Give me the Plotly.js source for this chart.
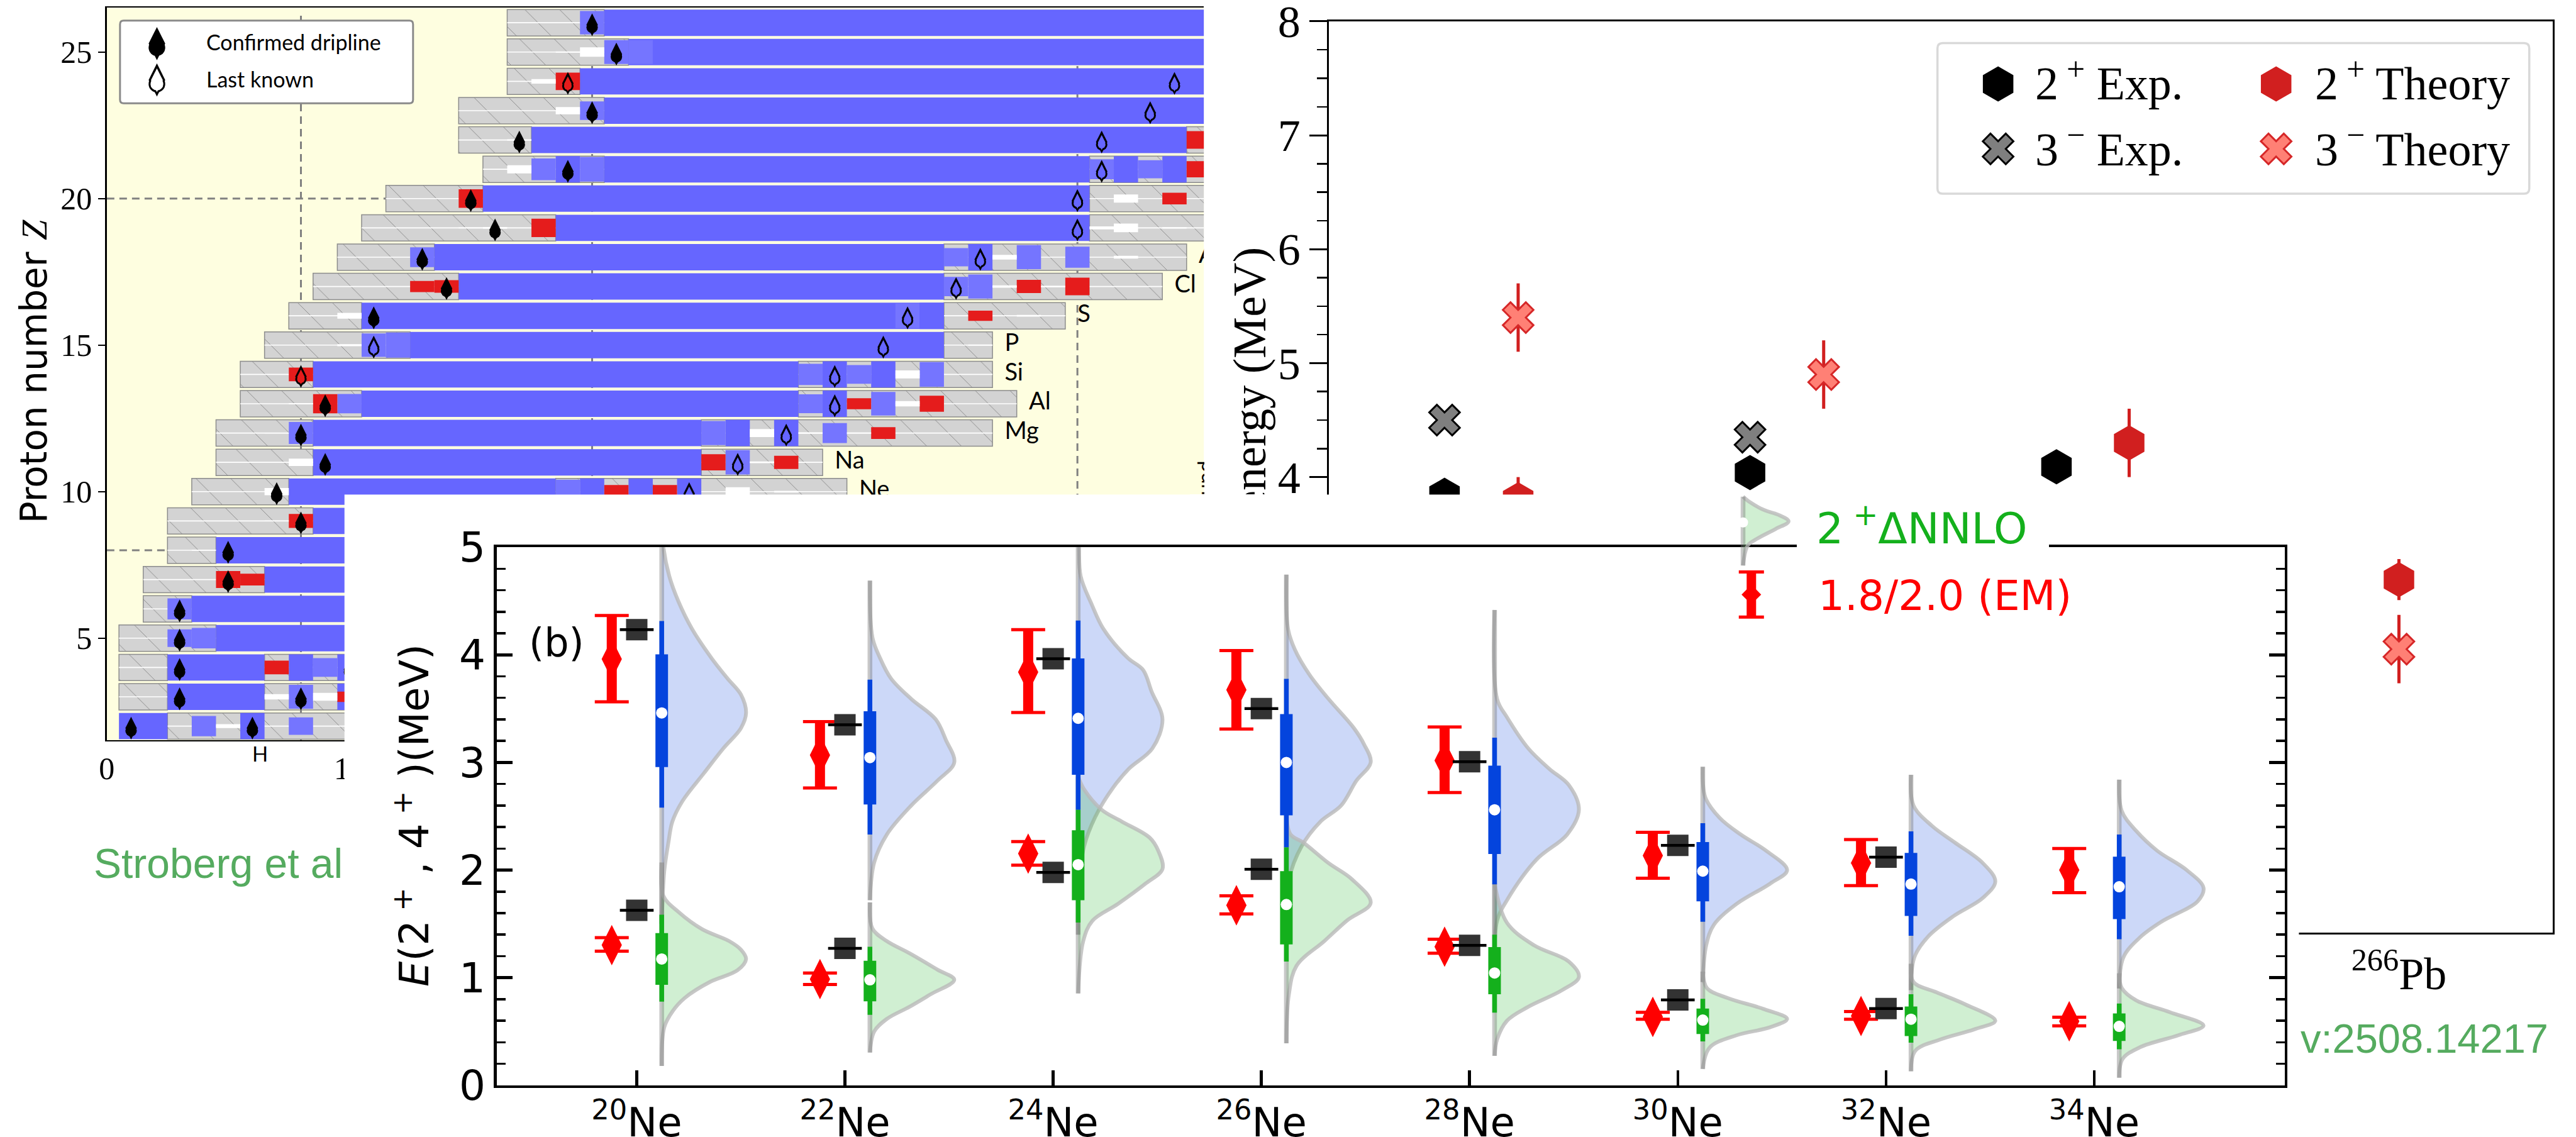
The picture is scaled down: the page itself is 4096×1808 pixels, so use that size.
<!DOCTYPE html>
<html><head><meta charset="utf-8">
<script src="https://cdn.plot.ly/plotly-3.0.1.min.js"></script>
<style>html,body{margin:0;padding:0;background:#fff}#c{width:4096px;height:1808px}</style>
</head><body><div id="c"></div>
<script>
// ---------- panel (a): nuclear chart cells, [Z, N_from, N_to]
const graySpans=[[26,16.5,20.5],[25,16.5,21.5],[24,16.5,19.5],[23,14.5,20.5],[22,14.5,17.5],[21,15.5,20.5],[20,11.5,15.5],[19,10.5,18.5],[18,9.5,13.5],[17,8.5,14.5],[16,7.5,10.5],[15,6.5,12.5],[14,5.5,8.5],[13,5.5,10.5],[12,4.5,8.5],[11,4.5,8.5],[10,3.5,7.5],[9,2.5,8.5],[8,2.5,4.5],[7,1.5,6.5],[6,1.5,3.5],[5,0.5,4.5],[4,0.5,2.5],[3,0.5,2.5],[2,2.5,14],[4,6.5,11],[3,6.5,14],[22,44.5,46],[21,40.5,46],[20,40.5,46],[19,40.5,46],[18,34.5,44.5],[17,34.5,43.5],[16,34.5,39.5],[15,34.5,36.5],[14,28.5,36.5],[13,28.5,37.5],[12,24.5,36.5],[11,24.5,29.5],[10,18.5,30.5]];
const blueSpans=[[26,20.5,46],[25,21.5,46],[24,19.5,46],[23,20.5,46],[22,17.5,44.5],[21,20.5,40.5],[20,15.5,40.5],[19,18.5,40.5],[18,13.5,34.5],[17,14.5,34.5],[16,10.5,34.5],[15,12.5,34.5],[14,8.5,28.5],[13,10.5,28.5],[12,8.5,24.5],[11,8.5,24.5],[10,7.5,18.5],[9,8.5,30],[8,4.5,30],[7,6.5,30],[6,3.5,30],[5,4.5,30],[4,2.5,6.5],[3,2.5,6.5],[2,0.5,2.5]];
// small cells: [Z, N, relative height]
const midBlueCells=[[26,20,.8],[25,21,.82],[25,22,.82],[23,20,.63],[21,18,.74],[21,20,.84],[18,13,.68],[15,11,.8],[15,12,.86],[13,10,.66],[12,8,.75],[10,19,.82],[6,3,.72],[5,3,.6],[5,4,.7],[4,9,.64],[3,8,.82],[2,4,.69],[2,8,.6],[21,41,.68],[21,43,.62],[18,35,.62],[18,38,.82],[18,40,.72],[17,35,.66],[17,36,.82],[16,33,.84],[14,29,.72],[14,31,.64],[14,34,.84],[13,29,.64],[13,32,.8],[12,25,.82],[12,30,.68],[11,26,.83]];
const fullBlueCells=[[21,19,.9],[21,42,.9],[21,44,.9],[18,36,.9],[16,34,.9],[14,30,.9],[14,32,.9],[13,30,.9],[12,26,.9],[12,28,.9],[10,20,.9],[10,22,.9],[10,24,.9],[4,8,.9],[4,10,.9],[3,10,.9],[2,6,.9]];
const redCells=[[24,19,.6],[20,15,.63],[19,18,.63],[17,13,.38],[17,14,.43],[14,8,.47],[13,9,.65],[10,21,.45],[10,23,.45],[9,8,.48],[7,5,.58],[7,6,.4],[4,7,.47],[3,10,.35],[22,45,.6],[21,45,.55],[20,44,.4],[17,38,.45],[17,40,.6],[16,36,.35],[13,31,.38],[13,34,.55],[12,32,.4],[11,25,.55],[11,28,.45]];
const whiteCells=[[25,19,.04],[25,20,.32],[24,18,.16],[23,19,.25],[22,17,.05],[21,17,.28],[19,15,.04],[19,16,.06],[16,10,.2],[15,10,.07],[13,8,.04],[12,7,.03],[11,8,.25],[10,7,.25],[9,7,.03],[8,4,.03],[3,7,.18],[3,9,.27],[2,5,.13],[20,42,.28],[19,41,.1],[19,42,.3],[19,44,.05],[18,37,.16],[18,42,.1],[17,37,.08],[17,39,.05],[16,38,.06],[15,36,.04],[14,33,.27],[13,33,.18],[12,27,.27],[12,29,.05],[12,31,.04],[11,27,.06],[10,26,.3],[10,28,.06]];
const confirmedDrip=[[26,20],[25,21],[23,20],[22,17],[21,19],[20,15],[19,16],[18,13],[17,14],[16,11],[13,9],[12,8],[11,9],[10,7],[9,8],[8,5],[7,5],[6,3],[5,3],[4,3],[3,3],[3,8],[2,1],[2,6],[4,10]];
const lastKnownDrip=[[24,19],[15,11],[14,8],[24,44],[23,43],[22,41],[21,41],[20,40],[19,40],[18,36],[17,35],[16,33],[15,32],[14,30],[13,30],[12,28],[11,26],[10,24]];
const lastKnownRedCell=['24,19','14,8'];
const elementNames=['Ne','Na','Mg','Al','Si','P','S','Cl','Ar'];
const elementZ=[10,11,12,13,14,15,16,17,18];
const elementN=[31,30,37,38,37,37,40,44,45];
const magicN=[8,20,40];
const magicZ=[[8,2.5],[20,11.5]];

// ---------- panel (c): Pb excited states
const cExp2X=[.378,1.378,2.381], cExp2=[3.84,4.04,4.09];
const cExp3X=[.378,1.378], cExp3=[4.50,4.35];
const cTh2X=[.619,2.619,3.502], cTh2=[3.80,4.30,3.10], cTh2Err=[.2,.3,.18];
const cTh3X=[.619,1.619,3.502], cTh3=[5.40,4.90,2.49], cTh3Err=[.3,.3,.3];

// ---------- panel (b): neon chain
const massNumbers=[20,22,24,26,28,30,32,34];
const red4=[3.96,3.068,3.84,3.674,3.018,2.134,2.066,2.0];
const red4Hi=[4.365,3.38,4.234,4.04,3.33,2.351,2.283,2.2];
const red4Lo=[3.563,2.763,3.464,3.31,2.72,1.925,1.856,1.79];
const red2=[1.303,.987,2.153,1.673,1.288,.636,.644,.595];
const red2Hi=[1.372,1.044,2.264,1.76,1.357,.678,.686,.633];
const red2Lo=[1.246,.9375,2.046,1.593,1.227,.614,.614,.553];
const exp4=[4.234,3.35,3.963,3.5,3.007,2.23,2.12];
const exp2=[1.627,1.273,1.978,2.008,1.30,.793,.713];
const med4=[3.46,3.045,3.41,3.0,2.56,1.99,1.87,1.845];
const boxHi4=[4.005,3.476,3.967,3.449,2.97,2.26,2.16,2.125];
const boxLo4=[2.957,2.61,2.885,2.508,2.15,1.71,1.574,1.545];
const whiskHi4=[4.314,3.77,4.318,3.777,3.23,2.435,2.36,2.33];
const whiskLo4=[2.58,2.33,2.56,2.21,1.867,1.52,1.39,1.357];
const med2=[1.174,.98,2.05,1.68,1.044,.606,.614,.548];
const boxHi2=[1.414,1.158,2.37,1.99,1.284,.713,.732,.668];
const boxLo2=[.934,.781,1.72,1.31,.846,.476,.457,.412];
const whiskHi2=[1.585,1.288,2.56,2.21,1.40,.804,.846,.76];
const whiskLo2=[.777,.655,1.513,1.15,.675,.408,.396,.335];
const violin4E=[
[5.3,5.0,4.73,4.5,4.24,3.97,3.78,3.63,3.46,3.32,3.13,2.9,2.64,2.45,2.26,1.99,1.5],
[4.69,4.16,3.97,3.78,3.59,3.4,3.21,3.0,2.83,2.6,2.33,2.07,1.72],
[5.3,5.0,4.73,4.47,4.24,3.97,3.86,3.66,3.4,3.13,2.94,2.75,2.49,2.22,1.875,1.4],
[4.745,4.24,4.05,3.82,3.59,3.32,3.17,3.0,2.83,2.6,2.447,2.22,1.91,1.38],
[4.417,3.59,3.42,3.13,2.94,2.79,2.56,2.33,2.1,1.72,1.53,1.11],
[2.96,2.675,2.485,2.33,2.18,2.0,1.875,1.685,1.49,1.3,.96],
[2.885,2.6,2.41,2.256,2.066,1.894,1.74,1.57,1.38,1.19,.884],
[2.84,2.55,2.365,2.18,2.0,1.835,1.71,1.52,1.377,1.19,.9]];
const violin4W=[
[0,.02,.09,.196,.36,.59,.78,.94,1,.94,.73,.5,.245,.126,.08,.03,0],
[0,.03,.12,.25,.49,.78,.9,1,.8,.49,.2,.05,0],
[0,.01,.03,.16,.3,.59,.77,.87,1,.88,.6,.4,.2,.07,.01,0],
[0,.02,.1,.27,.5,.8,.92,1,.83,.65,.4,.18,.03,0],
[0,.03,.147,.4,.65,.88,1,.86,.5,.147,.03,0],
[0,.03,.2,.45,.75,1,.8,.4,.13,.04,0],
[0,.03,.25,.52,.85,1,.85,.5,.2,.04,0],
[0,.03,.2,.45,.8,1,.93,.5,.25,.05,0]];
const violin2E=[
[2.07,1.76,1.61,1.45,1.34,1.26,1.174,1.07,.96,.81,.69,.54,.18],
[1.7,1.456,1.34,1.227,1.075,.98,.846,.73,.617,.5,.305],
[2.866,2.75,2.56,2.45,2.3,2.18,2.01,1.875,1.685,1.53,1.34,.854],
[2.52,2.33,2.256,2.065,1.913,1.696,1.532,1.34,1.11,.846,.39],
[1.875,1.51,1.3,1.15,1.006,.884,.73,.6,.427,.274],
[1.056,.903,.81,.71,.617,.54,.465,.35,.152],
[1.13,.96,.865,.75,.6,.52,.427,.32,.13],
[1.04,.905,.79,.68,.555,.465,.355,.245,.07]];
const violin2W=[
[0,.02,.2,.48,.8,.94,1,.9,.57,.27,.13,.03,0],
[0,.03,.2,.47,.8,1,.72,.47,.2,.05,0],
[0,.07,.28,.52,.85,.95,1,.8,.47,.17,.06,0],
[0,.05,.2,.5,.78,1,.72,.45,.12,.03,0],
[0,.147,.47,.88,1,.8,.4,.147,.03,0],
[0,.05,.3,.72,1,.8,.4,.08,0],
[0,.03,.3,.65,1,.75,.35,.05,0],
[0,.03,.2,.6,1,.7,.25,.04,0]];
const keyViolinE=[5.47,5.418,5.342,5.304,5.24,5.17,5.075,5.017,4.83];
const keyViolinW=[0,.082,.26,.41,.54,.387,.158,.056,0];

// ---------- page geometry (reference pixels)
const W=4958,H=2189,K=4096/4958;
const px=v=>v*K;
const domX=(a,b)=>[a/W,b/W], domY=(a,b)=>[1-b/H,1-a/H];
const P=(X,Y)=>({x:X/W,y:1-Y/H});
const nOf=X=>(X-205.6)/46.7, zOf=Y=>26+(44-Y)/56.4;
const BLUE='#6666ff',MID='#7575ff',RED='#e51c1c';
const SERIF='Liberation Serif',SANS='DejaVu Sans',LATO='Lato',HELV='Liberation Sans';

const traces=[];
function spanTrace(sp,h,color,extra){
  traces.push(Object.assign({type:'bar',orientation:'h',xaxis:'x',yaxis:'y',hoverinfo:'skip',
    y:sp.map(s=>s[0]),base:sp.map(s=>s[1]),x:sp.map(s=>s[2]-s[1]),width:sp.map(()=>h),
    marker:{color:color,line:{width:0}}},extra||{}));
}
function cellTrace(cells,color){
  traces.push({type:'bar',orientation:'h',xaxis:'x',yaxis:'y',hoverinfo:'skip',
    y:cells.map(c=>c[0]),base:cells.map(c=>c[1]-.5),x:cells.map(()=>1),width:cells.map(c=>c[2]),
    marker:{color:color,line:{width:0}}});
}
// (a) cells
spanTrace(graySpans,.9,'#d3d3d3',{marker:{color:'#d3d3d3',line:{color:'#8c8c8c',width:1.5},
  pattern:{shape:'\\',size:39,solidity:.025,fgcolor:'#8c8c8c',bgcolor:'#d3d3d3',fillmode:'replace'}}});
spanTrace(graySpans,.035,'#ffffff');
spanTrace(blueSpans,.9,BLUE);
cellTrace(midBlueCells,MID);
cellTrace(fullBlueCells,BLUE);
cellTrace(redCells,RED);
cellTrace(whiteCells,'#ffffff');
// (a) droplets: a round body and a tall pointed top
function drop(Ns,Zs,cS,dS,dzC,dzD,color){
  traces.push({type:'scatter',mode:'markers',xaxis:'x',yaxis:'y',hoverinfo:'skip',x:Ns,y:Zs.map(z=>z+dzD),
    marker:{symbol:'diamond-tall',size:dS,color:color,line:{width:0}}});
  traces.push({type:'scatter',mode:'markers',xaxis:'x',yaxis:'y',hoverinfo:'skip',x:Ns,y:Zs.map(z=>z+dzC),
    marker:{symbol:'circle',size:cS,color:color,line:{width:0}}});
}
drop(confirmedDrip.map(d=>d[1]),confirmedDrip.map(d=>d[0]),18.2,26,-.16,-.07,'#000');
drop(lastKnownDrip.map(d=>d[1]),lastKnownDrip.map(d=>d[0]),18.2,26,-.16,-.07,'#000');
drop(lastKnownDrip.map(d=>d[1]),lastKnownDrip.map(d=>d[0]),12.2,17,-.16,-.085,
  lastKnownDrip.map(d=>lastKnownRedCell.includes(d[0]+','+d[1])?RED:BLUE));
// (a) legend glyphs
drop([nOf(302)],[zOf(92)],26.4,37.7,0,.14,'#000');
drop([nOf(302)],[zOf(162)],26.4,37.7,0,.14,'#000');
drop([nOf(302)],[zOf(162)],20.4,27,0,.13,'#fff');
// (a) element labels
traces.push({type:'scatter',mode:'text',xaxis:'x',yaxis:'y',hoverinfo:'skip',x:elementN,y:elementZ,text:elementNames,
  textposition:'middle right',textfont:{family:LATO,size:38,color:'#000'}});

// (c) points
const th2={symbol:'hexagon',size:56,color:'#d11f1f',line:{width:0}};
const ex2={symbol:'hexagon',size:56,color:'#000',line:{width:0}};
const ex3={symbol:'x',size:43,color:'#7f7f7f',line:{color:'#000',width:3}};
const th3={symbol:'x',size:43,color:'#ff8075',line:{color:'#d62728',width:3}};
function cPts(x,y,m,err){
  const t={type:'scatter',mode:'markers',xaxis:'x2',yaxis:'y2',hoverinfo:'skip',x:x,y:y,marker:m};
  if(err) t.error_y={type:'data',array:err,color:'#d11f1f',thickness:5,width:0};
  traces.push(t);
}
cPts(cExp2X,cExp2,ex2);
cPts(cExp3X,cExp3,ex3);
cPts(cTh2X,cTh2,th2,cTh2Err);
cPts(cTh3X,cTh3,th3,cTh3Err);
// (c) legend glyphs
cPts([2.19],[7.45],ex2); cPts([2.19],[6.88],ex3); cPts([3.10],[7.45],th2); cPts([3.10],[6.88],th3);

// white sheet carrying panel (b)
traces.push({type:'scatter',mode:'none',xaxis:'x3',yaxis:'y3',hoverinfo:'skip',x:[0,1,1,0,0],y:[0,0,1,1,0],fill:'toself',fillcolor:'#ffffff'});

// (b)
const vOff=.12, vW=.405;
const S=(o)=>Object.assign({type:'scatter',xaxis:'x4',yaxis:'y4',hoverinfo:'skip'},o);
const K5=(o)=>Object.assign({type:'scatter',xaxis:'x5',yaxis:'y5',hoverinfo:'skip'},o);
const OUTLINE='rgba(185,185,185,.8)', STEM='rgba(125,125,125,.42)';
function violin(c,E,Wd,fill,wrap){
  traces.push(wrap({mode:'lines',x:Wd.map(w=>c+w*vW),y:E,fill:'toself',fillcolor:fill,
    line:{color:OUTLINE,width:6,shape:'spline',smoothing:1}}));
  traces.push(wrap({mode:'lines',x:[c,c],y:[E[0],E[E.length-1]],line:{color:STEM,width:7.5}}));
}
massNumbers.forEach((m,i)=>violin(i+vOff,violin4E[i],violin4W[i],'rgba(40,90,225,.24)',S));
massNumbers.forEach((m,i)=>violin(i+vOff,violin2E[i],violin2W[i],'rgba(20,176,28,.2)',S));
function seg(lo,hi,color,w){
  const x=[],y=[];
  massNumbers.forEach((m,i)=>{x.push(i+vOff,i+vOff,null);y.push(lo[i],hi[i],null);});
  traces.push(S({mode:'lines',x:x,y:y,line:{color:color,width:w}}));
}
const BV='#0444dd',GV='#14b01c';
seg(whiskLo4,whiskHi4,BV,7.5); seg(boxLo4,boxHi4,BV,20);
seg(whiskLo2,whiskHi2,GV,7.5); seg(boxLo2,boxHi2,GV,20);
[med4,med2].forEach(md=>traces.push(S({mode:'markers',x:massNumbers.map((m,i)=>i+vOff),y:md,marker:{symbol:'circle',size:18,color:'#fff',line:{width:0}}})));
function theory(x,y,hi,lo,capW){
  const up=y.map((v,i)=>hi[i]-v), dn=y.map((v,i)=>v-lo[i]);
  traces.push(S({mode:'markers',x:x,y:y,marker:{size:1,color:'#ff0000'},error_y:{type:'data',symmetric:false,array:up,arrayminus:dn,color:'#ff0000',thickness:5,width:capW}}));
  traces.push(S({mode:'markers',x:x,y:y,marker:{symbol:'diamond-tall',size:46,color:'#ff0000',line:{width:0}},error_y:{type:'data',symmetric:false,array:up,arrayminus:dn,color:'#ff0000',thickness:16,width:0}}));
}
const redX=massNumbers.map((m,i)=>i-.12);
theory(redX,red4,red4Hi,red4Lo,27);
theory(redX,red2,red2Hi,red2Lo,27);
[exp4,exp2].forEach(e=>{
  traces.push(S({mode:'markers',x:e.map((v,i)=>i),y:e,marker:{symbol:'square',size:34,color:'#333333',line:{width:0}}}));
  traces.push(S({mode:'markers',x:e.map((v,i)=>i),y:e,marker:{size:1,color:'#000'},
    error_x:{type:'constant',value:.081,color:'#000',thickness:4.5,width:0}}));
});
// (b) key, on its own layer above the frame
violin(5.314,keyViolinE,keyViolinW,'rgba(20,176,28,.2)',K5);
traces.push(K5({mode:'markers',x:[5.314],y:[5.23],marker:{symbol:'circle',size:16,color:'#fff',line:{width:0}}}));
traces.push(K5({mode:'markers',x:[5.354],y:[4.56],marker:{size:1,color:'#f00'},error_y:{type:'data',array:[.21],color:'#f00',thickness:5,width:20}}));
traces.push(K5({mode:'markers',x:[5.354],y:[4.56],marker:{symbol:'diamond',size:24,color:'#f00',line:{width:0}},error_y:{type:'data',array:[.21],color:'#f00',thickness:15,width:0}}));

// shapes living under each panel's marks
const shapes=[];
shapes.push({type:'rect',xref:'x',yref:'y',layer:'below',x0:0,x1:46,y0:1,y1:27,fillcolor:'#fefee0',line:{width:0}});
const dashLine={color:'#808080',width:3,dash:'12px,8px'};
magicN.forEach(n=>shapes.push({type:'line',xref:'x',yref:'y',layer:'below',x0:n,x1:n,y0:1.52,y1:26.4,line:dashLine}));
magicZ.forEach(z=>shapes.push({type:'line',xref:'x',yref:'y',layer:'below',x0:0,x1:z[1],y0:z[0],y1:z[0],line:dashLine}));
function rounded(xr,yr,X0,Y0,X1,Y1,r,stroke,lw,nf,zf){
  const a=nf,b=zf;
  const p=`M${a(X0+r)},${b(Y0)}L${a(X1-r)},${b(Y0)}Q${a(X1)},${b(Y0)} ${a(X1)},${b(Y0+r)}L${a(X1)},${b(Y1-r)}Q${a(X1)},${b(Y1)} ${a(X1-r)},${b(Y1)}L${a(X0+r)},${b(Y1)}Q${a(X0)},${b(Y1)} ${a(X0)},${b(Y1-r)}L${a(X0)},${b(Y0+r)}Q${a(X0)},${b(Y0)} ${a(X0+r)},${b(Y0)}Z`;
  return {type:'path',xref:xr,yref:yr,layer:'below',path:p,fillcolor:'#fff',line:{color:stroke,width:lw}};
}
shapes.push(rounded('x','y',231,40,795,199,7,'#8a8a8a',3,nOf,zOf));
shapes.push(rounded('x2','y2',3729,83,4868,373,10,'#d9d9d9',3.5,X=>(X-2558)/588,Y=>8-(Y-41)/219.4));

// text
function T(text,X,Y,size,family,color,o){
  const p=P(X,Y);
  return Object.assign({xref:'paper',yref:'paper',x:p.x,y:p.y,text:text,showarrow:false,xanchor:'left',yanchor:'middle',
    font:{family:family,size:size,color:color||'#000'}},o||{});
}
function Mask(X0,Y0,X1,Y1){
  const p=P((X0+X1)/2,(Y0+Y1)/2);
  return {xref:'paper',yref:'paper',x:p.x,y:p.y,text:' ',showarrow:false,xanchor:'center',yanchor:'middle',
    width:px(X1-X0),height:px(Y1-Y0),bgcolor:'#fff',borderpad:0,borderwidth:0,font:{size:10}};
}
const annotations=[
  T('Proton number <i style="font-family:Liberation Serif">Z</i>',65,715,58,SANS,'#000',{xanchor:'center',textangle:-90}),
  T('Confirmed dripline',395,80,34,LATO),
  T('Last known',395,152,34,LATO),
  T('H',500,1450,33,LATO,'#000',{xanchor:'center'}),
  T('und',2318,920,33,LATO,'#000',{xanchor:'center',textangle:-90}),
  T('energy (MeV)',2405,730,74,SERIF,'#000',{xanchor:'center',textangle:-90}),
  Mask(2318,860,2372,952),
  Mask(2290,952,2460,1045),
  Mask(3458,1044,3943,1063),
  T('2<sup> +</sup> Exp.',3914,154,74,SERIF),
  T('3<sup> −</sup> Exp.',3914,282,74,SERIF),
  T('2<sup> +</sup> Theory',4453,154,74,SERIF),
  T('3<sup> −</sup> Theory',4453,282,74,SERIF),
  T('Stroberg et al',178,1662,66,HELV,'#55ab5f'),
  T('v:2508.14217',4426,2000,65,HELV,'#55ab5f'),
  T('(b)',1015,1237,62,SANS),
  T('<i>E</i>(2<sup> +</sup> , 4<sup> +</sup> )(MeV)',792,1570,64,SANS,'#000',{xanchor:'center',textangle:-90}),
  T('2<sup> +</sup>ΔNNLO',3493,1012,68,SANS,'#14b01c'),
  T('1.8/2.0 (EM)',3497,1147,66,SANS,'#ff0000')
];
const BLK='#000';
const layout={
  width:4096,height:1808,margin:{l:0,r:0,t:0,b:0},showlegend:false,barmode:'overlay',hovermode:false,
  paper_bgcolor:'#fff',plot_bgcolor:'rgba(0,0,0,0)',shapes:shapes,annotations:annotations,
  xaxis:{domain:domX(205.6,2317),anchor:'y',range:[0,45.21],showgrid:false,zeroline:false,showline:true,linecolor:BLK,linewidth:2.5,mirror:true,
    tickmode:'array',tickvals:[0,10],ticktext:['0','10'],ticks:'',ticklabeloverflow:'allow',tickfont:{family:SERIF,size:50,color:BLK}},
  yaxis:{domain:domY(15,1425),anchor:'x',range:[1.52,26.51],showgrid:false,zeroline:false,showline:true,linecolor:BLK,linewidth:2.5,
    tickmode:'array',tickvals:[5,10,15,20,25],ticks:'outside',ticklen:11,tickwidth:2.5,tickcolor:BLK,ticklabeloverflow:'allow',tickfont:{family:SERIF,size:50,color:BLK}},
  xaxis2:{domain:domX(2558,4913),anchor:'y2',range:[0,4.005],showgrid:false,zeroline:false,showline:true,linecolor:BLK,linewidth:3,mirror:true,
    tickmode:'array',tickvals:[3.502],ticktext:['<sup>266</sup>Pb'],ticks:'',ticklabeloverflow:'allow',tickfont:{family:SERIF,size:72,color:BLK}},
  yaxis2:{domain:domY(41,1796),anchor:'x2',range:[0,8],showgrid:false,zeroline:false,showline:true,linecolor:BLK,linewidth:3,mirror:true,
    dtick:1,ticks:'outside',ticklen:28,tickwidth:3,tickcolor:BLK,ticklabeloverflow:'allow',tickfont:{family:SERIF,size:72,color:BLK},
    minor:{dtick:.25,ticks:'outside',ticklen:16,tickwidth:2.5,tickcolor:BLK,showgrid:false}},
  xaxis3:{domain:domX(662.7,4425),anchor:'y3',range:[0,1],visible:false,fixedrange:true},
  yaxis3:{domain:domY(952,2189),anchor:'x3',range:[0,1],visible:false,fixedrange:true},
  xaxis4:{domain:domX(956,4397),anchor:'y4',range:[-.6726,7.914],showgrid:false,zeroline:false,showline:true,linecolor:BLK,linewidth:4.5,mirror:true,layer:'below traces',
    tickmode:'array',tickvals:massNumbers.map((m,i)=>i),ticktext:massNumbers.map(m=>'<sup>'+m+'</sup>Ne'),
    ticks:'inside',ticklen:24,tickwidth:4.5,tickcolor:BLK,ticklabeloverflow:'allow',tickfont:{family:SANS,size:64,color:BLK}},
  yaxis4:{domain:domY(1053.5,2089.5),anchor:'x4',range:[0,5],showgrid:false,zeroline:false,showline:true,linecolor:BLK,linewidth:4.5,mirror:'allticks',layer:'below traces',
    dtick:1,ticks:'inside',ticklen:25,tickwidth:4.5,tickcolor:BLK,ticklabeloverflow:'allow',tickfont:{family:SANS,size:66,color:BLK},
    minor:{dtick:.2,ticks:'inside',ticklen:14,tickwidth:3.5,tickcolor:BLK,showgrid:false}},
  xaxis5:{domain:domX(3300,3960),anchor:'y5',range:[(3300-1225.5)/400.7,(3960-1225.5)/400.7],visible:false,fixedrange:true},
  yaxis5:{domain:domY(940,1210),anchor:'x5',range:[(2089.5-1210)/207.2,(2089.5-940)/207.2],visible:false,fixedrange:true}
};
Plotly.newPlot('c',traces,layout,{staticPlot:true,displayModeBar:false});
</script></body></html>
